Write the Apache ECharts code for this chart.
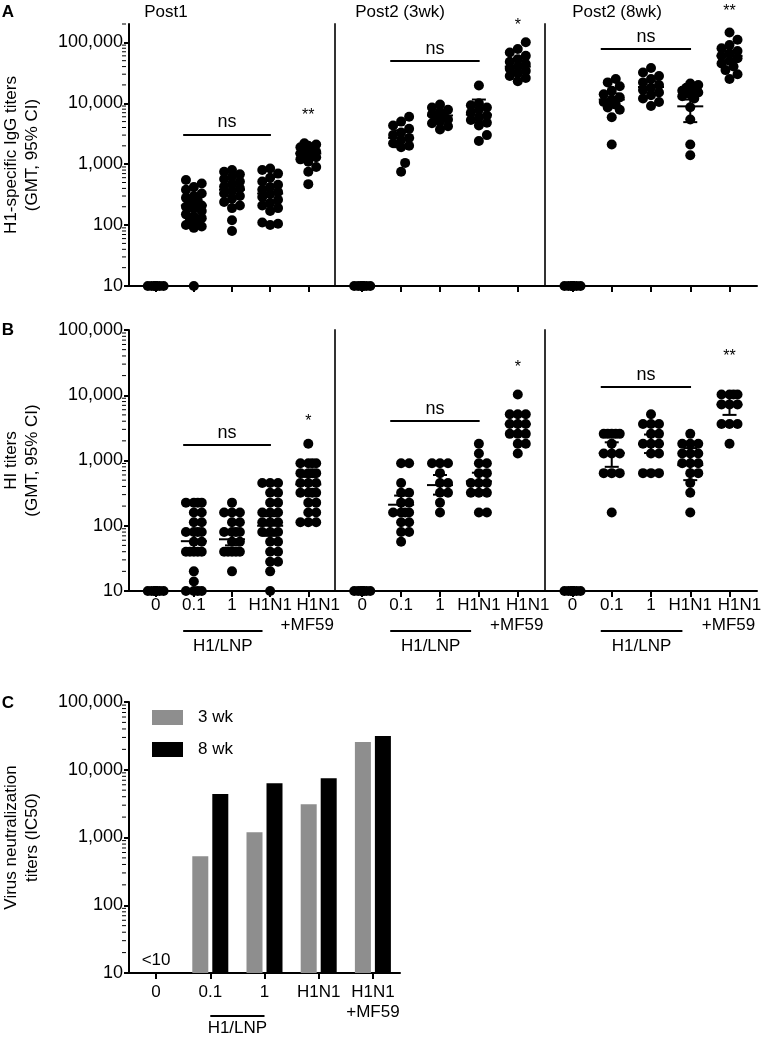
<!DOCTYPE html>
<html>
<head>
<meta charset="utf-8">
<script src="https://cdn.jsdelivr.net/npm/echarts@6/dist/echarts.min.js"></script>
<style>
  html, body { margin: 0; padding: 0; background: #fff; }
  #main { width: 774px; height: 1042px; }
</style>
</head>
<body>
<div id="main"></div>
<script>
// ---- categories / labels ----
const doses = ['0', '0.1', '1', 'H1N1', 'H1N1\n+MF59'];
const timepoints = ['Post1', 'Post2 (3wk)', 'Post2 (8wk)'];
const decadeTicks = [10, 100, 1000, 10000, 100000];
const zeros = [10, 10, 10, 10, 10, 10, 10, 10, 10, 10];

// ---- A: H1-specific IgG titers, per animal ----
const iggPost1 = [
  zeros,
  [10, 90, 95, 100, 110, 120, 130, 140, 150, 170, 190, 200, 210, 230, 250, 280, 300, 330, 380, 420, 480, 550],
  [80, 120, 190, 210, 240, 270, 300, 330, 360, 400, 430, 470, 520, 570, 620, 680, 750, 800],
  [100, 105, 110, 170, 190, 210, 230, 260, 290, 320, 350, 380, 420, 460, 520, 600, 700, 800, 850],
  [470, 750, 900, 1100, 1200, 1300, 1400, 1500, 1600, 1700, 1800, 1900, 2000, 2100, 2200]
];
const iggPost2wk3 = [
  zeros,
  [750, 1050, 1900, 2000, 2200, 2500, 2700, 3000, 3300, 3800, 4300, 5000, 6000],
  [3700, 4200, 4700, 5000, 5400, 5800, 6200, 6600, 7200, 7800, 8500, 9500],
  [2400, 3000, 4300, 4800, 5300, 5800, 6300, 7000, 7800, 8500, 9300, 10000, 19500],
  [23000, 26000, 28000, 31000, 34000, 37000, 40000, 44000, 48000, 53000, 60000, 68000, 78000, 100000]
];
const iggPost2wk8 = [
  zeros,
  [2100, 5900, 7800, 8500, 9500, 10500, 11500, 12500, 14000, 16000, 19000, 22000, 25000],
  [9000, 10500, 12000, 13500, 15000, 16500, 18000, 20000, 22000, 25000, 28000, 32000, 38000],
  [1400, 2100, 5400, 8600, 12000, 13000, 14000, 15000, 16000, 17000, 18000, 20000, 21000],
  [25000, 30000, 35000, 40000, 45000, 50000, 55000, 60000, 66000, 72000, 80000, 90000, 110000, 145000]
];
// GMT and 95% CI (one row per time point, dose order)
const iggGmt  = [[null, 210, 380, 330, 1500], [null, 2700, 6300, 6500, 40000], [null, 11500, 18500, 8900, 60000]];
const iggCiLo = [[null, 170, 300, 250, 1200], [null, 1900, 5300, 4900, 33000], [null, 8500, 15000, 4900, 48000]];
const iggCiHi = [[null, 260, 480, 430, 1800], [null, 3600, 7400, 11500, 50000], [null, 14500, 23000, 11500, 72000]];
const iggNsLevel = [3080, 49000, 78000];
const iggStars = ['**', '*', '**'];
const iggStarLevel = [6300, 190000, 199000];

// ---- B: HI titers, per animal ----
const hiPost1 = [
  zeros,
  [10, 10, 10, 10, 14, 20, 40, 40, 40, 40, 40, 57, 57, 80, 80, 80, 80, 113, 113, 160, 160, 226, 226, 226, 226],
  [20, 40, 40, 40, 40, 40, 57, 57, 80, 80, 80, 80, 113, 113, 160, 160, 160, 226],
  [10, 20, 28, 28, 40, 40, 57, 57, 80, 80, 80, 113, 113, 113, 160, 160, 160, 226, 226, 320, 320, 453, 453, 453],
  [113, 113, 113, 160, 160, 226, 226, 320, 320, 320, 320, 453, 453, 453, 640, 640, 640, 640, 905, 905, 905, 905, 1810]
];
const hiPost2wk3 = [
  zeros,
  [57, 80, 80, 113, 113, 160, 160, 160, 160, 226, 226, 320, 320, 453, 905, 905],
  [160, 226, 320, 320, 453, 453, 640, 905, 905, 905],
  [160, 160, 320, 320, 320, 453, 453, 453, 640, 640, 905, 905, 1280, 1810],
  [1280, 1810, 1810, 2560, 2560, 2560, 3620, 3620, 3620, 5120, 5120, 5120, 10240]
];
const hiPost2wk8 = [
  zeros,
  [160, 640, 640, 640, 1280, 1280, 1280, 1810, 2560, 2560, 2560, 2560, 2560],
  [640, 640, 640, 1280, 1280, 1810, 1810, 1810, 2560, 2560, 3620, 3620, 3620, 5120],
  [160, 320, 453, 640, 640, 905, 905, 905, 1280, 1280, 1280, 1810, 1810, 1810, 2560],
  [1810, 3620, 3620, 3620, 7240, 7240, 7240, 10240, 10240, 10240, 10240]
];
const hiGmt  = [[null, 58, 62, 100, 430], [null, 210, 420, 480, 3600], [null, 1300, 1800, 850, 7200]];
const hiCiLo = [[null, 45, 50, 70, 320], [null, 150, 300, 350, 2600], [null, 800, 1300, 500, 5000]];
const hiCiHi = [[null, 75, 78, 140, 560], [null, 290, 600, 650, 4900], [null, 1900, 2500, 1550, 9900]];
const hiNsLevel = [1740, 4000, 13400];
const hiStars = ['*', '*', '**'];
const hiStarLevel = [4000, 27000, 39000];

// ---- C: virus neutralization (pooled) ----
const vnWeeks = ['3 wk', '8 wk'];
const vn3wk = [null, 530, 1200, 3100, 25700];
const vn8wk = [null, 4370, 6300, 7500, 31600];

const nsSpan = [0.72, 3.02];

const FONT = '"Liberation Sans", Arial, Helvetica, sans-serif';
const colLeft = [126, 335, 545];
const colWidth = [209, 210, 212];

const panels = [
  { sets: [iggPost1, iggPost2wk3, iggPost2wk8], gmt: iggGmt, lo: iggCiLo, hi: iggCiHi,
    ns: iggNsLevel, stars: iggStars, starLevel: iggStarLevel,
    max: 200000, top: 24, height: 262, name: 'H1-specific IgG titers\n(GMT, 95% CI)' },
  { sets: [hiPost1, hiPost2wk3, hiPost2wk8], gmt: hiGmt, lo: hiCiLo, hi: hiCiHi,
    ns: hiNsLevel, stars: hiStars, starLevel: hiStarLevel,
    max: 100000, top: 330, height: 261, name: 'HI titers\n(GMT, 95% CI)' }
];

function decadeLabel(v) {
  const e = Math.log10(v);
  return Math.abs(e - Math.round(e)) < 1e-6 ? Math.round(v).toLocaleString('en-US') : '';
}

// simple deterministic beeswarm: pixel offsets so dots don't stack
function swarm(vals, pxDec) {
  const order = vals.map((v, i) => i).sort((a, b) => vals[a] - vals[b]);
  const steps = [0, 4, -4, 8, -8];
  const placed = [];
  const out = [];
  order.forEach(i => {
    const y = Math.log10(vals[i]) * pxDec;
    let best = 0, bestD = -1;
    for (const s of steps) {
      let d = Infinity;
      placed.forEach(p => { d = Math.min(d, Math.hypot(p[0] - s, p[1] - y)); });
      if (d >= 9) { best = s; break; }
      if (d > bestD) { bestD = d; best = s; }
    }
    placed.push([best, y]);
    out[i] = best;
  });
  return out;
}

function renderGmt(params, api) {
  const x = api.value(0);
  const c = api.coord([x, api.value(1)]);
  const lo = api.coord([x, api.value(2)]);
  const hi = api.coord([x, api.value(3)]);
  const st = { stroke: '#000', lineWidth: 2 };
  return { type: 'group', children: [
    { type: 'line', shape: { x1: c[0] - 13, y1: c[1], x2: c[0] + 13, y2: c[1] }, style: st },
    { type: 'line', shape: { x1: c[0], y1: lo[1], x2: c[0], y2: hi[1] }, style: st },
    { type: 'line', shape: { x1: c[0] - 7, y1: lo[1], x2: c[0] + 7, y2: lo[1] }, style: st },
    { type: 'line', shape: { x1: c[0] - 7, y1: hi[1], x2: c[0] + 7, y2: hi[1] }, style: st }
  ]};
}

const yName = (text) => ({
  name: text, nameLocation: 'middle', nameRotate: 90, nameGap: 86, nameMoveOverlap: false,
  nameTextStyle: { fontSize: 17, lineHeight: 21, color: '#000', fontFamily: FONT }
});

const option = {
  animation: false,
  textStyle: { fontFamily: FONT, color: '#000' },
  grid: [], xAxis: [], yAxis: [], series: [],
  legend: {
    data: vnWeeks, orient: 'vertical', left: 147, top: 704,
    itemWidth: 31, itemHeight: 15, itemGap: 15, icon: 'rect',
    textStyle: { fontSize: 17, color: '#000', fontFamily: FONT, padding: [0, 0, 0, 10] }
  }
};

panels.forEach((p, r) => {
  const pxDec = p.height / Math.log10(p.max / 10);
  for (let c = 0; c < 3; c++) {
    const gi = r * 3 + c;
    const pxUnit = colWidth[c] / 5.4;
    option.grid.push({ left: colLeft[c], top: p.top, width: colWidth[c], height: p.height });
    option.xAxis.push({
      gridIndex: gi, type: 'value', min: -0.7, max: 4.7,
      splitLine: { show: false },
      axisLine: { show: true, onZero: false, lineStyle: { color: '#000', width: 2 } },
      axisTick: { show: true, customValues: [0, 1, 2, 3, 4], length: 6, lineStyle: { color: '#000', width: 2 } },
      axisLabel: { show: false }
    });
    option.yAxis.push(Object.assign({
      gridIndex: gi, type: 'log', logBase: 10, min: 10, max: p.max,
      splitLine: { show: false },
      axisLine: { show: true, onZero: false, lineStyle: { color: c === 0 ? '#000' : '#333', width: 2 } },
      axisTick: { show: c === 0, customValues: decadeTicks, length: 5, lineStyle: { color: '#000', width: 2 } },
      axisLabel: { show: c === 0, customValues: decadeTicks, formatter: decadeLabel, fontSize: 18, color: '#000', margin: 6, fontFamily: FONT }
    }, yName(c === 0 ? p.name : '')));

    const pts = [];
    p.sets[c].forEach((vals, k) => {
      const offs = swarm(vals, pxDec);
      vals.forEach((v, i) => pts.push([k + offs[i] / pxUnit, v]));
    });
    option.series.push({
      type: 'scatter', xAxisIndex: gi, yAxisIndex: gi, data: pts, clip: false,
      symbol: 'circle', symbolSize: 10, itemStyle: { color: '#000', opacity: 1 }, silent: true,
      markLine: {
        silent: true, symbol: 'none',
        lineStyle: { color: '#000', width: 2, type: 'solid' },
        label: { show: true, position: 'insideMiddleTop', formatter: 'ns', fontSize: 18, color: '#000', distance: 3, fontFamily: FONT },
        data: [[{ coord: [nsSpan[0], p.ns[c]] }, { coord: [nsSpan[1], p.ns[c]] }]]
      },
      markPoint: {
        symbol: 'circle', symbolSize: 1, itemStyle: { color: 'rgba(0,0,0,0)' },
        label: { show: true, position: 'inside', formatter: '{b}', fontSize: 16, color: '#000', fontFamily: FONT,
          offset: (r === 0 && c === 2) ? [0, -13] : [0, 0] },
        data: [{ name: p.stars[c], coord: [4, p.starLevel[c]] }]
      }
    });

    const bars = [];
    for (let k = 1; k < 5; k++) bars.push([k, p.gmt[c][k], p.lo[c][k], p.hi[c][k]]);
    option.series.push({
      type: 'custom', xAxisIndex: gi, yAxisIndex: gi, data: bars, silent: true,
      encode: { x: 0, y: [1, 2, 3] }, renderItem: renderGmt, clip: false
    });
  }
});

// panel C
option.grid.push({ left: 126, top: 702, width: 274, height: 271 });
option.xAxis.push({
  gridIndex: 6, type: 'category', data: doses,
  axisLine: { show: true, onZero: false, lineStyle: { color: '#000', width: 2 } },
  axisTick: { show: true, alignWithLabel: true, length: 6, lineStyle: { color: '#000', width: 2 } },
  axisLabel: { show: false }
});
option.yAxis.push(Object.assign({
  gridIndex: 6, type: 'log', logBase: 10, min: 10, max: 100000,
  splitLine: { show: false },
  axisLine: { show: true, onZero: false, lineStyle: { color: '#000', width: 2 } },
  axisTick: { show: true, customValues: decadeTicks, length: 5, lineStyle: { color: '#000', width: 2 } },
  axisLabel: { customValues: decadeTicks, formatter: decadeLabel, fontSize: 18, color: '#000', margin: 6, fontFamily: FONT }
}, yName('Virus neutralization\ntiters (IC50)')));
option.series.push(
  { type: 'bar', name: vnWeeks[0], xAxisIndex: 6, yAxisIndex: 6, data: vn3wk, barWidth: 16, barGap: '25%',
    itemStyle: { color: '#8e8e8e' }, silent: true },
  { type: 'bar', name: vnWeeks[1], xAxisIndex: 6, yAxisIndex: 6, data: vn8wk, barWidth: 16, barGap: '25%',
    itemStyle: { color: '#000' }, silent: true }
);

const chart = echarts.init(document.getElementById('main'));
chart.setOption(option);

// annotations placed through the axes
const g = [];
const txt = (text, x, y, size, weight, va) => g.push({ type: 'text', x: x, y: y, silent: true,
  style: { text: text, fill: '#000', font: (weight || 'normal') + ' ' + size + 'px ' + FONT,
    lineHeight: 20, textAlign: 'center', textVerticalAlign: va || 'middle' } });
const seg = (x1, y1, x2, y2, w) => g.push({ type: 'line', silent: true, shape: { x1, y1, x2, y2 }, style: { stroke: '#000', lineWidth: w || 2 } });

txt('A', 8, 12, 17, 'bold');
txt('B', 8, 330, 17, 'bold');
txt('C', 8, 703, 17, 'bold');
const titleX = [166, 400, 617];
timepoints.forEach((t, c) => txt(t, titleX[c], 12, 17));

// log minor ticks (2..9 per decade) on the labelled y axes
[[0, 200000], [3, 100000], [6, 100000]].forEach(([ai, mx]) => {
  const axX = 126;
  for (let d = 10; d < mx; d *= 10) {
    for (let m = 2; m <= 9; m++) {
      const v = d * m;
      if (v > mx) break;
      const y = chart.convertToPixel({ yAxisIndex: ai }, v);
      seg(axX - 4, y, axX, y, 1);
    }
  }
});

// dose labels under panel B (the two-line label's first line sits a little right, as in the figure)
for (let c = 0; c < 3; c++) {
  const gi = 3 + c;
  const yb = chart.convertToPixel({ yAxisIndex: gi }, 10);
  doses.forEach((d, k) => {
    const x = chart.convertToPixel({ xAxisIndex: gi }, k);
    const lines = d.split('\n');
    if (lines.length === 1) txt(d, x, yb + 4, 17, 'normal', 'top');
    else {
      txt(lines[0], x + 10, yb + 4, 17, 'normal', 'top');
      txt(lines[1], x - 1, yb + 24, 17, 'normal', 'top');
    }
  });
  const x1 = chart.convertToPixel({ xAxisIndex: gi }, 0.72);
  const x2 = chart.convertToPixel({ xAxisIndex: gi }, 2.8);
  seg(x1, yb + 40, x2, yb + 40);
  txt('H1/LNP', (x1 + x2) / 2, yb + 55, 17);
}
{
  const yb = chart.convertToPixel({ yAxisIndex: 6 }, 10);
  doses.forEach((d, k) => txt(d, chart.convertToPixel({ xAxisIndex: 6 }, k), yb + 9, 17, 'normal', 'top'));
  const x1 = chart.convertToPixel({ xAxisIndex: 6 }, 0.78);
  const x2 = chart.convertToPixel({ xAxisIndex: 6 }, 2.18);
  seg(x1, yb + 43, x2, yb + 43);
  txt('H1/LNP', (x1 + x2) / 2, yb + 55, 17);
  const lt = chart.convertToPixel({ gridIndex: 6 }, [0, 15.5]);
  txt('<10', lt[0], lt[1], 17);
}
chart.setOption({ graphic: g });
</script>
</body>
</html>
